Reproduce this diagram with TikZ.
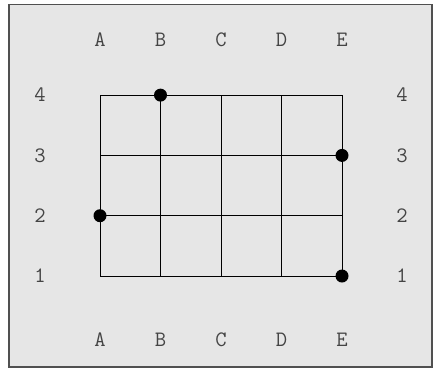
\documentclass[tikz,border=0pt]{standalone}
\usepackage{fontspec}
\usepackage{xcolor}
\definecolor{cBack}{HTML}{E6E6E6}
\definecolor{cFrame}{HTML}{505050}
\definecolor{cText}{HTML}{444444}
\usepackage{tikz}
\usetikzlibrary{calc}
\tikzset{
  board-frame/.style={draw=cFrame,fill=cBack,line width=1.3pt},
  grid-line/.style={draw=black,line width=1pt},
  pin-dot/.style={circle,fill=black,inner sep=0pt,minimum size=13pt},
  axis-label/.style={font=\ttfamily\fontsize{22}{26}\selectfont,text=cText},
}
\begin{document}
\begin{tikzpicture}[x=1pt,y=-1pt]
  \useasboundingbox (0,0) rectangle (433,368);
  \draw[board-frame] (9,4.5) rectangle (432,367);
  % grid points and column labels
  \foreach \c [count=\i from 0] in {A,B,C,D,E} {
    \foreach \r in {1,2,3,4}
      \coordinate (\c\r) at (100+60.5*\i,276-60.3*\r+60.3);
    \node[axis-label] (top-\c) at (100+60.5*\i,40) {\c};
    \node[axis-label] (bot-\c) at (100+60.5*\i,340) {\c};
  }
  % row labels
  \foreach \r in {1,2,3,4} {
    \node[axis-label] (left-\r)  at (40,276-60.3*\r+60.3)  {\r};
    \node[axis-label] (right-\r) at (402,276-60.3*\r+60.3) {\r};
  }
  \foreach \c in {A,B,C,D,E}
    \draw[grid-line] (\c1) -- (\c4);
  \foreach \r in {1,2,3,4}
    \draw[grid-line] (A\r) -- (E\r);
  \node[pin-dot] (pin-B4) at (B4) {};
  \node[pin-dot] (pin-E3) at (E3) {};
  \node[pin-dot] (pin-A2) at (A2) {};
  \node[pin-dot] (pin-E1) at (E1) {};
\end{tikzpicture}
\end{document}
